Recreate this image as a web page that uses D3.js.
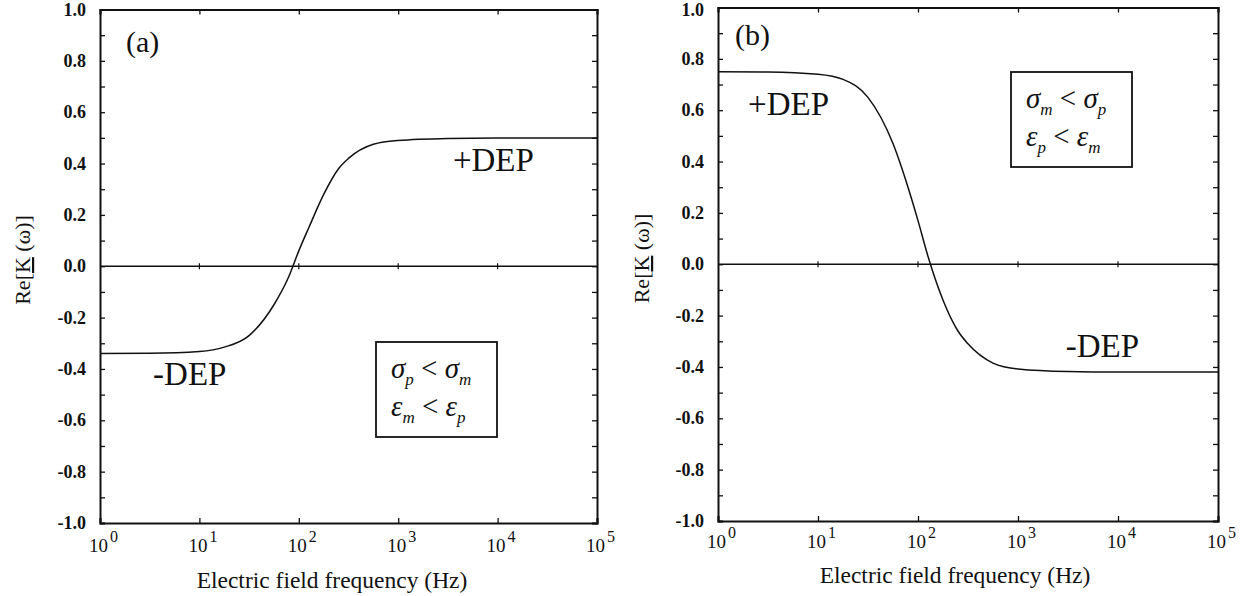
<!DOCTYPE html>
<html>
<head>
<meta charset="utf-8">
<script src="https://cdn.jsdelivr.net/npm/d3@7"></script>
<style>
  html, body { margin: 0; padding: 0; background: #fff; }
  svg { display: block; }
  text { font-family: "Liberation Serif", "Times New Roman", serif; fill: #111; }
</style>
</head>
<body>
<svg id="chart" width="1250" height="596"></svg>
<script>
// ---------------- data ----------------
// frequency samples (Hz)
const freqA   = [1, 3.16, 10, 17.8, 31.6, 56.2, 79.4, 100, 126, 178, 251, 316, 562, 1000, 3162, 10000, 100000];
const reKA    = [-0.34, -0.339, -0.332, -0.315, -0.27, -0.15, -0.04, 0.06, 0.15, 0.28, 0.38, 0.42, 0.475, 0.49, 0.498, 0.5, 0.5];
const freqB   = [1, 3.16, 10, 17.8, 31.6, 56.2, 79.4, 100, 126, 178, 251, 316, 562, 1000, 3162, 10000, 100000];
const reKB    = [0.75, 0.749, 0.74, 0.72, 0.65, 0.47, 0.3, 0.17, 0.03, -0.14, -0.26, -0.31, -0.385, -0.408, -0.418, -0.42, -0.42];

const yMajorTicks  = [-1.0, -0.8, -0.6, -0.4, -0.2, 0.0, 0.2, 0.4, 0.6, 0.8, 1.0];
const yMajorLabels = ["-1.0", "-0.8", "-0.6", "-0.4", "-0.2", "0.0", "0.2", "0.4", "0.6", "0.8", "1.0"];
const yMinorTicks  = [-0.9, -0.7, -0.5, -0.3, -0.1, 0.1, 0.3, 0.5, 0.7, 0.9];
const xTickValues  = [1, 10, 100, 1000, 10000, 100000];
const xTickExps    = ["0", "1", "2", "3", "4", "5"];

const panelLabels   = ["(a)", "(b)"];
const xAxisTitle    = "Electric field frequency (Hz)";
const condA = [["σ", "p", " < ", "σ", "m"], ["ε", "m", " < ", "ε", "p"]];
const condB = [["σ", "m", " < ", "σ", "p"], ["ε", "p", " < ", "ε", "m"]];
const depLabelsA = [{text: "+DEP", f: 3550, v: 0.37}, {text: "-DEP", f: 3.42, v: -0.462}];
const depLabelsB = [{text: "+DEP", f: 2.0, v: 0.58}, {text: "-DEP", f: 3000, v: -0.362}];

// ---------------- layout ----------------
const panels = [
  {left: 100, right: 597, top: 9.5, bottom: 523, freq: freqA, vals: reKA, label: panelLabels[0],
   labelPos: [126, 52], cond: condA, box: [376, 342, 121, 95], deps: depLabelsA,
   titleX: 332, titleY: 588, yTitleX: 30, yTitleY: 260, xLabY: 552},
  {left: 718, right: 1218, top: 7.5, bottom: 521, freq: freqB, vals: reKB, label: panelLabels[1],
   labelPos: [735, 45], cond: condB, box: [1011, 72, 121, 95], deps: depLabelsB,
   titleX: 955, titleY: 583, yTitleX: 649, yTitleY: 258.5, xLabY: 548}
];

const svg = d3.select("#chart");

panels.forEach(p => {
  const x = d3.scaleLog().domain([1, 1e5]).range([p.left, p.right]);
  const y = d3.scaleLinear().domain([-1, 1]).range([p.bottom, p.top]);
  const g = svg.append("g");

  // zero line with decade ticks crossing it
  g.append("line").attr("x1", p.left).attr("x2", p.right).attr("y1", y(0)).attr("y2", y(0))
    .attr("stroke", "#111").attr("stroke-width", 1.5);
  g.selectAll(".zt").data(xTickValues.slice(1, -1)).enter().append("line")
    .attr("x1", d => x(d)).attr("x2", d => x(d)).attr("y1", y(0) - 3).attr("y2", y(0) + 3)
    .attr("stroke", "#111").attr("stroke-width", 1.2);

  // curve
  const line = d3.line().x(d => x(d[0])).y(d => y(d[1])).curve(d3.curveMonotoneX);
  g.append("path").datum(p.freq.map((f, i) => [f, p.vals[i]]))
    .attr("d", line).attr("fill", "none").attr("stroke", "#111").attr("stroke-width", 1.5);

  // axes (ticks inward)
  const noLab = () => "";
  const yAll = yMajorTicks.concat(yMinorTicks);
  g.append("g").attr("transform", `translate(${p.left},0)`)
    .call(d3.axisLeft(y).tickValues(yAll).tickSize(-5).tickFormat(noLab));
  g.append("g").attr("transform", `translate(${p.right},0)`)
    .call(d3.axisRight(y).tickValues(yAll).tickSize(-5).tickFormat(noLab));
  g.append("g").attr("transform", `translate(0,${p.bottom})`)
    .call(d3.axisBottom(x).tickValues(xTickValues).tickSize(-5).tickFormat(noLab));
  g.append("g").attr("transform", `translate(0,${p.top})`)
    .call(d3.axisTop(x).tickValues(xTickValues).tickSize(-5).tickFormat(noLab));
  g.selectAll(".domain").attr("stroke", "#111").attr("stroke-width", 2);
  g.selectAll(".tick line").attr("stroke", "#111").attr("stroke-width", 1.3);

  // y tick labels
  g.selectAll(".ylab").data(yMajorTicks).enter().append("text")
    .attr("x", p.left - 14).attr("y", d => Math.max(y(d) + 6, 16))
    .attr("text-anchor", "end").attr("font-size", 18).attr("font-weight", "bold")
    .text((d, i) => yMajorLabels[i]);

  // x tick labels 10^n
  xTickValues.forEach((v, i) => {
    const t = g.append("text").attr("x", x(v) - 11).attr("y", p.xLabY).attr("font-size", 19);
    t.append("tspan").text("10");
    t.append("tspan").attr("dy", -10).attr("dx", 2).attr("font-size", 16).text(xTickExps[i]);
  });

  // axis titles
  g.append("text").attr("x", p.titleX).attr("y", p.titleY).attr("text-anchor", "middle")
    .attr("font-size", 23.5).text(xAxisTitle);
  const yt = g.append("text").attr("transform", `translate(${p.yTitleX},${p.yTitleY}) rotate(-90)`)
    .attr("text-anchor", "middle").attr("font-size", 22);
  yt.append("tspan").text("Re[");
  yt.append("tspan").attr("text-decoration", "underline").text("K");
  yt.append("tspan").text(" (ω)]");

  // panel label
  g.append("text").attr("x", p.labelPos[0]).attr("y", p.labelPos[1]).attr("font-size", 30).text(p.label);

  // DEP labels
  p.deps.forEach(d => {
    g.append("text").attr("x", x(d.f)).attr("y", y(d.v)).attr("font-size", 33).text(d.text);
  });

  // condition box
  const [bx, by, bw, bh] = p.box;
  g.append("rect").attr("x", bx).attr("y", by).attr("width", bw).attr("height", bh)
    .attr("fill", "#fff").attr("stroke", "#111").attr("stroke-width", 1.8);
  p.cond.forEach((row, r) => {
    const t = g.append("text").attr("x", bx + 15).attr("y", by + 36 + r * 38)
      .attr("font-size", 29).attr("font-style", "italic");
    t.append("tspan").text(row[0]);
    t.append("tspan").attr("dy", 7).attr("font-size", 17).text(row[1]);
    t.append("tspan").attr("dy", -7).attr("font-style", "normal").text(row[2]);
    t.append("tspan").text(row[3]);
    t.append("tspan").attr("dy", 7).attr("font-size", 17).text(row[4]);
  });
});
</script>
</body>
</html>
